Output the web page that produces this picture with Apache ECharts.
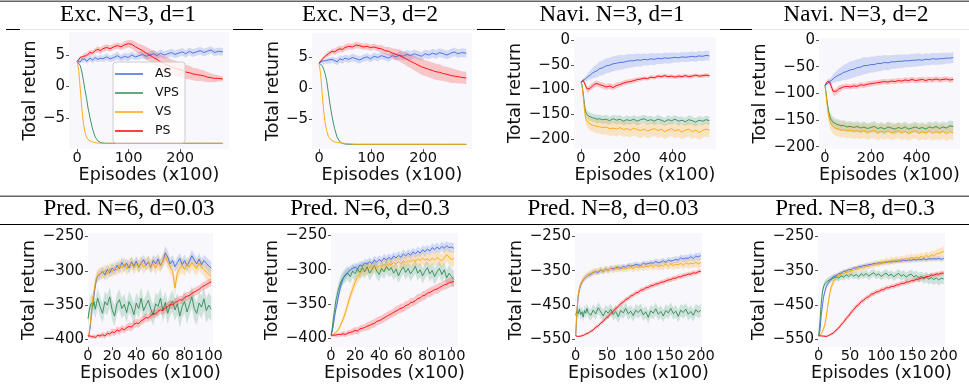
<!DOCTYPE html>
<html><head><meta charset="utf-8">
<script src="https://cdn.jsdelivr.net/npm/echarts@6/dist/echarts.min.js"></script>
<style>html,body{margin:0;padding:0;background:#fff}#c{width:969px;height:391px}</style>
</head><body><div id="c"></div>
<script>
// ---------------- DATA ----------------
const seriesNames = ['AS', 'VPS', 'VS', 'PS'];
const panelTitles = ['Exc. N=3, d=1', 'Exc. N=3, d=2', 'Navi. N=3, d=1', 'Navi. N=3, d=2',
  'Pred. N=6, d=0.03', 'Pred. N=6, d=0.3', 'Pred. N=8, d=0.03', 'Pred. N=8, d=0.3'];
const xAxisName = 'Episodes (x100)';
const yAxisName = 'Total return';

const excXTicks = [0, 100, 200];
const excYTicks = [-5, 0, 5];
const naviXTicks = [0, 200, 400];
const naviYTicks = [-200, -150, -100, -50, 0];
const pred6XTicks = [0, 20, 40, 60, 80, 100];
const pred6YTicks = [-400, -350, -300, -250];
const pred8XTicks = [0, 50, 100, 150, 200];
const pred8YTicks = [-550, -450, -350, -250];

const excX = [0,3,6,9,12,15,18,21,25,30,35,40,45,50,57,64,71,78,85,92,99,106,113,120,127,134,141,148,155,162,169,176,183,190,197,204,211,218,225,232,239,246,253,260,267,274,283];
const naviX = [0,5,10,15,20,25,30,35,40,50,60,70,80,95,110,125,140,155,170,185,200,215,230,245,260,275,290,305,320,335,350,365,380,395,410,425,440,455,470,485,500,515,530,545,560];
const pred6X = [0,1,2,3,4,5,6,7,8,10,12,14,16,18,20,22,24,26,28,30,32,34,36,38,40,42,44,46,48,50,52,54,56,58,60,62,64,66,68,70,72,74,76,78,80,82,84,86,88,90,92,94,96,98,100,102];
const pred8X = [0,2,4,6,8,10,12,14,16,18,20,24,28,32,36,40,44,48,52,56,60,64,68,72,76,80,84,88,92,96,100,104,108,112,116,120,124,128,132,136,140,144,148,152,156,160,164,168,172,176,180,184,188,192,196,200];

// Exc. N=3, d=1
const exc1_AS = [4.0,4.2,3.9,4.3,4.1,4.4,4.0,4.3,4.5,4.2,4.6,4.3,4.5,4.4,4.7,4.4,4.6,4.9,4.5,4.8,4.6,5.0,4.7,4.9,5.1,4.8,5.0,5.2,4.9,5.3,5.0,5.2,5.4,5.1,5.3,5.5,5.2,5.6,5.3,5.5,5.7,5.4,5.6,5.8,5.4,5.6,5.5];
const exc1_AS_sd = [0.1,0.2,0.3,0.3,0.4,0.4,0.4,0.5,0.5,0.5,0.5,0.5,0.5,0.5,0.6,0.5,0.6,0.6,0.5,0.6,0.6,0.6,0.5,0.6,0.6,0.6,0.6,0.6,0.6,0.6,0.6,0.6,0.6,0.6,0.6,0.6,0.6,0.6,0.6,0.6,0.6,0.6,0.6,0.6,0.6,0.6,0.6];
const exc1_VPS = [4.0,3.8,3.3,2.3,1.0,-0.5,-1.8,-3.4,-5.0,-6.8,-8.0,-8.6,-8.85,-8.95,-9,-9,-9,-9,-9,-9,-9,-9,-9,-9,-9,-9,-9,-9,-9,-9,-9,-9,-9,-9,-9,-9,-9,-9,-9,-9,-9,-9,-9,-9,-9,-9,-9];
const exc1_VS = [4.0,2.5,-0.5,-3.5,-5.8,-7.2,-8.0,-8.4,-8.65,-8.8,-8.9,-8.95,-9,-9,-9,-9,-9,-9,-9,-9,-9,-9,-9,-9,-9,-9,-9,-9,-9,-9,-9,-9,-9,-9,-9,-9,-9,-9,-9,-9,-9,-9,-9,-9,-9,-9,-9];
const exc1_PS = [4.0,4.3,4.6,4.5,4.8,5.0,4.9,5.2,5.4,5.3,5.7,5.9,5.7,6.0,6.2,6.0,6.3,6.5,6.3,6.6,6.8,6.7,6.3,6.0,5.7,5.3,5.0,4.6,4.3,3.9,3.6,3.4,3.1,2.9,2.7,2.6,2.3,2.2,2.0,1.9,1.8,1.7,1.5,1.4,1.3,1.3,1.2];
const exc1_PS_sd = [0.1,0.2,0.3,0.3,0.3,0.4,0.4,0.4,0.4,0.4,0.4,0.5,0.5,0.5,0.5,0.5,0.5,0.5,0.5,0.6,0.6,0.7,0.8,0.8,0.9,1.0,1.0,1.1,1.1,1.2,1.2,1.2,1.2,1.2,1.2,1.2,1.1,1.1,1.0,1.0,0.9,0.9,0.8,0.7,0.6,0.5,0.4];

// Exc. N=3, d=2
const exc2_AS = [4.0,4.1,4.3,4.0,4.4,4.2,4.5,4.3,4.6,4.4,4.2,4.7,4.5,4.8,4.6,4.9,4.7,4.5,4.8,5.0,4.7,5.1,4.9,5.2,5.0,4.8,5.2,5.0,5.3,5.1,5.4,5.2,5.5,5.3,5.1,5.5,5.3,5.6,5.4,5.7,5.5,5.3,5.6,5.8,5.5,5.7,5.6];
const exc2_AS_sd = [0.1,0.2,0.3,0.3,0.4,0.4,0.5,0.5,0.5,0.5,0.6,0.6,0.6,0.6,0.6,0.6,0.6,0.6,0.6,0.6,0.6,0.6,0.6,0.6,0.6,0.6,0.6,0.6,0.7,0.7,0.7,0.7,0.7,0.7,0.7,0.7,0.7,0.7,0.7,0.7,0.7,0.7,0.7,0.7,0.7,0.7,0.7];
const exc2_VPS = [4.0,3.9,3.6,3.0,2.2,1.0,-0.8,-2.6,-4.6,-6.6,-8.0,-8.7,-8.95,-9.05,-9.1,-9.1,-9.1,-9.1,-9.1,-9.1,-9.1,-9.1,-9.1,-9.1,-9.1,-9.1,-9.1,-9.1,-9.1,-9.1,-9.1,-9.1,-9.1,-9.1,-9.1,-9.1,-9.1,-9.1,-9.1,-9.1,-9.1,-9.1,-9.1,-9.1,-9.1,-9.1,-9.1];
const exc2_VS = [4.0,2.3,-0.8,-3.8,-5.8,-7.0,-7.8,-8.2,-8.5,-8.7,-8.8,-8.85,-8.9,-8.95,-9.0,-9.05,-9.1,-9.1,-9.1,-9.1,-9.1,-9.1,-9.1,-9.1,-9.1,-9.1,-9.1,-9.1,-9.1,-9.1,-9.1,-9.1,-9.1,-9.1,-9.1,-9.1,-9.1,-9.1,-9.1,-9.1,-9.1,-9.1,-9.1,-9.1,-9.1,-9.1,-9.1];
const exc2_PS = [4.0,4.3,4.6,4.9,5.1,5.3,5.5,5.6,5.9,5.8,6.1,6.3,6.2,6.5,6.7,6.6,6.9,6.8,6.6,6.7,6.5,6.6,6.4,6.3,6.0,5.9,5.6,5.4,5.2,4.9,4.6,4.3,4.0,3.7,3.4,3.2,3.0,2.8,2.6,2.5,2.3,2.2,2.0,1.9,1.8,1.7,1.6];
const exc2_PS_sd = [0.1,0.2,0.3,0.3,0.3,0.4,0.4,0.4,0.4,0.5,0.5,0.5,0.5,0.5,0.5,0.5,0.5,0.5,0.5,0.5,0.5,0.5,0.5,0.6,0.6,0.7,0.8,0.9,1.0,1.0,1.1,1.1,1.2,1.2,1.3,1.3,1.3,1.3,1.3,1.3,1.2,1.2,1.2,1.1,1.1,1.0,1.0];

// Navi. N=3, d=1
const navi1_AS = [-85,-84,-81,-80,-78,-77,-74,-72,-71,-67,-64,-62,-58,-56,-52,-51,-48,-47,-45,-45,-43,-42,-42,-40,-41,-39,-40,-38,-39,-37,-38,-36,-37,-36,-35,-36,-34,-35,-34,-33,-34,-32,-33,-31,-32];
const navi1_AS_sd = [1,2,3,4,5,6,7,8,9,11,12,13,14,15,15,15,15,15,15,14,14,14,13,13,13,12,12,12,12,11,11,11,11,11,10,10,10,10,10,10,10,10,10,10,10];
const navi1_VPS = [-85,-92,-108,-130,-145,-150,-152,-154,-155,-157,-158,-160,-159,-161,-160,-163,-159,-162,-160,-164,-161,-163,-160,-164,-161,-159,-163,-161,-164,-160,-162,-165,-161,-163,-160,-164,-162,-165,-161,-163,-166,-162,-164,-161,-163];
const navi1_VPS_sd = [1,3,5,7,8,8,8,9,8,8,8,9,8,8,9,8,8,9,8,8,9,8,8,9,8,8,9,8,8,9,8,8,9,8,8,9,8,8,9,8,8,9,8,8,9];
const navi1_VS = [-85,-95,-115,-140,-158,-163,-166,-168,-170,-172,-173,-175,-175,-177,-176,-179,-178,-180,-177,-181,-179,-182,-178,-181,-183,-180,-184,-181,-179,-183,-180,-185,-182,-179,-184,-181,-186,-182,-180,-185,-182,-187,-183,-180,-182];
const navi1_VS_sd = [1,3,6,9,11,12,12,13,13,13,14,14,14,14,15,15,15,15,15,15,15,15,15,15,15,15,15,15,15,15,15,15,15,15,15,15,15,15,15,15,15,15,15,15,15];
const navi1_PS = [-85,-83,-82,-86,-92,-98,-101,-99,-96,-93,-89,-88,-90,-92,-95,-93,-96,-92,-90,-87,-85,-84,-82,-80,-79,-77,-78,-75,-76,-73,-74,-72,-74,-73,-75,-73,-74,-72,-74,-73,-71,-73,-72,-71,-72];
const navi1_PS_sd = [1,2,3,4,5,6,6,6,6,6,6,6,6,6,6,6,6,6,5,5,5,5,5,5,4,4,4,4,4,4,4,4,4,4,4,4,4,4,4,4,4,4,4,4,4];

// Navi. N=3, d=2
const navi2_AS = [-85,-83,-82,-80,-78,-77,-75,-72,-71,-68,-66,-64,-61,-59,-56,-55,-52,-51,-48,-48,-46,-46,-44,-44,-42,-43,-41,-41,-40,-40,-39,-39,-38,-38,-37,-38,-36,-37,-35,-36,-35,-35,-34,-34,-33];
const navi2_AS_sd = [1,2,3,4,5,6,7,8,9,10,12,13,14,15,16,16,16,16,16,15,15,15,15,14,14,14,13,13,13,13,12,12,12,12,12,11,11,11,11,11,11,11,10,10,10];
const navi2_VPS = [-85,-100,-118,-132,-142,-148,-151,-154,-156,-158,-159,-161,-160,-163,-162,-164,-162,-165,-163,-166,-164,-162,-166,-164,-167,-163,-165,-167,-164,-166,-163,-167,-165,-163,-166,-164,-167,-163,-165,-162,-166,-163,-165,-161,-162];
const navi2_VPS_sd = [1,3,6,8,9,10,10,10,10,10,10,10,10,10,10,10,10,10,10,10,10,10,10,10,10,10,10,10,10,10,10,10,10,10,10,10,10,10,10,10,10,10,10,10,10];
const navi2_VS = [-85,-105,-125,-140,-150,-156,-160,-162,-164,-166,-167,-169,-168,-170,-169,-171,-170,-172,-169,-173,-171,-170,-174,-171,-173,-170,-174,-172,-170,-174,-171,-175,-172,-170,-175,-172,-174,-170,-175,-172,-174,-171,-176,-172,-174];
const navi2_VS_sd = [1,4,7,10,12,13,13,13,14,14,14,14,14,14,14,14,14,14,14,14,14,14,14,14,14,14,14,14,14,14,14,14,14,14,14,14,14,14,14,14,14,14,14,14,14];
const navi2_PS = [-85,-82,-78,-76,-79,-84,-90,-96,-99,-96,-92,-90,-88,-87,-88,-86,-87,-84,-85,-83,-82,-81,-80,-79,-78,-79,-77,-78,-76,-77,-75,-76,-74,-76,-75,-74,-76,-74,-75,-73,-75,-74,-73,-75,-74];
const navi2_PS_sd = [1,2,3,4,5,6,6,6,6,6,6,6,5,5,5,5,5,5,5,5,5,5,5,5,5,5,5,5,5,5,5,5,5,5,5,5,5,5,5,5,5,5,5,5,5];

// Pred. N=6, d=0.03
const pred1_AS = [-395,-392,-380,-360,-345,-335,-322,-312,-308,-305,-301,-306,-298,-303,-296,-300,-292,-297,-288,-294,-289,-296,-287,-293,-286,-295,-289,-284,-292,-287,-295,-285,-290,-283,-292,-286,-274,-280,-290,-285,-294,-288,-282,-291,-285,-293,-286,-278,-284,-290,-283,-291,-285,-289,-293,-296];
const pred1_AS_sd = [1,2,4,6,7,7,7,7,7,7,7,8,7,7,8,7,7,8,8,8,7,8,8,7,8,8,8,7,8,8,8,8,9,8,8,9,10,9,8,8,8,9,8,8,9,8,8,9,8,8,9,8,8,9,9,9];
const pred1_VPS = [-370,-358,-350,-347,-352,-345,-356,-348,-340,-352,-362,-345,-350,-338,-357,-366,-348,-342,-355,-349,-361,-345,-352,-364,-347,-355,-340,-358,-350,-343,-356,-365,-348,-352,-340,-358,-346,-362,-350,-344,-357,-348,-366,-352,-345,-360,-349,-338,-355,-362,-347,-353,-341,-358,-350,-356];
const pred1_VPS_sd = [8,10,12,13,14,14,14,14,14,14,14,15,15,14,15,15,14,15,15,15,15,15,15,16,15,15,16,15,15,16,16,15,16,16,15,16,16,16,15,16,16,16,17,16,16,17,16,16,17,17,16,17,17,18,18,18];
const pred1_VS = [-395,-390,-375,-356,-340,-330,-318,-310,-307,-304,-303,-300,-305,-297,-301,-295,-299,-291,-296,-290,-297,-292,-289,-296,-290,-294,-288,-295,-290,-287,-294,-289,-296,-288,-293,-285,-279,-287,-294,-300,-325,-303,-296,-292,-298,-290,-295,-288,-293,-297,-289,-294,-298,-302,-305,-308];
const pred1_VS_sd = [1,2,4,6,8,9,9,9,9,9,9,9,9,9,9,9,9,9,9,10,9,10,9,10,9,10,9,10,9,10,10,10,10,10,10,10,10,10,10,10,14,10,10,10,10,10,10,10,10,10,10,10,10,11,11,11];
const pred1_PS = [-395,-396,-395,-397,-396,-395,-397,-396,-394,-395,-393,-395,-391,-392,-389,-390,-386,-388,-384,-386,-383,-381,-382,-378,-376,-377,-373,-371,-368,-369,-365,-362,-363,-359,-357,-358,-354,-352,-349,-350,-346,-345,-342,-343,-339,-337,-336,-333,-331,-329,-327,-324,-322,-320,-318,-316];
const pred1_PS_sd = [2,2,2,2,3,3,3,3,3,3,4,4,4,4,5,5,5,5,5,5,5,6,6,6,6,6,6,6,6,6,6,6,6,6,6,6,6,6,6,6,6,6,6,6,6,6,6,6,6,6,6,6,6,6,6,6];

// Pred. N=6, d=0.3
const pred2_AS = [-395,-390,-380,-368,-357,-350,-340,-332,-324,-313,-307,-304,-300,-298,-296,-299,-293,-295,-290,-292,-288,-291,-286,-289,-285,-288,-283,-286,-282,-285,-280,-283,-279,-282,-277,-280,-276,-279,-274,-277,-273,-276,-271,-274,-270,-273,-268,-271,-267,-270,-266,-269,-265,-268,-267,-269];
const pred2_AS_sd = [1,2,3,5,6,6,6,6,6,6,6,6,6,6,6,6,6,6,6,6,6,6,6,6,6,6,6,6,6,6,6,6,6,6,7,6,6,7,6,6,7,6,6,7,6,6,7,6,7,6,7,7,6,7,7,7];
const pred2_VPS = [-395,-385,-370,-358,-345,-338,-330,-324,-318,-312,-308,-305,-310,-302,-306,-299,-304,-297,-303,-296,-305,-300,-294,-302,-307,-298,-303,-295,-301,-297,-305,-299,-309,-301,-296,-304,-298,-306,-301,-295,-305,-300,-309,-302,-297,-306,-301,-310,-303,-298,-307,-300,-312,-305,-310,-314];
const pred2_VPS_sd = [1,3,5,7,9,10,10,10,10,10,10,10,10,10,10,10,10,10,10,10,11,10,10,11,10,10,11,10,10,11,10,11,10,11,10,11,10,11,10,11,11,10,11,11,10,11,11,12,11,11,12,11,12,12,12,12];
const pred2_VS = [-395,-395,-394,-393,-391,-390,-387,-384,-380,-372,-362,-350,-338,-328,-318,-311,-306,-302,-299,-300,-296,-298,-295,-297,-294,-296,-292,-295,-291,-293,-289,-292,-288,-291,-287,-290,-286,-289,-285,-288,-284,-287,-283,-286,-284,-287,-283,-286,-282,-285,-287,-283,-278,-282,-285,-284];
const pred2_VS_sd = [1,1,1,2,2,2,3,3,4,5,6,7,8,8,8,8,8,8,8,8,8,8,8,8,8,8,8,8,8,8,8,8,8,8,8,9,8,8,9,8,9,8,9,9,8,9,9,9,10,9,10,10,10,11,11,11];
const pred2_PS = [-395,-396,-395,-396,-395,-396,-394,-395,-394,-393,-394,-392,-391,-390,-388,-389,-386,-385,-384,-382,-381,-379,-378,-375,-374,-372,-370,-368,-366,-364,-362,-360,-358,-356,-355,-352,-351,-348,-347,-345,-342,-341,-338,-337,-334,-333,-331,-329,-328,-326,-324,-322,-321,-319,-318,-317];
const pred2_PS_sd = [2,2,2,2,3,3,3,3,3,4,4,4,4,5,5,5,5,5,5,6,6,6,6,6,6,6,6,6,6,6,6,7,6,7,6,7,6,7,6,7,7,6,7,7,6,7,7,6,7,7,6,7,7,7,7,7];

// Pred. N=8, d=0.03
const pred3_AS = [-540,-470,-425,-405,-392,-383,-377,-373,-369,-367,-363,-361,-355,-353,-355,-348,-352,-345,-349,-343,-344,-342,-339,-344,-337,-341,-334,-337,-335,-332,-333,-335,-328,-331,-329,-327,-328,-323,-327,-325,-321,-326,-319,-322,-320,-317,-319,-312,-316,-313,-314,-309,-314,-307,-310,-306];
const pred3_AS_sd = [2,6,8,8,8,8,8,8,8,8,8,8,8,8,8,8,8,8,8,8,8,8,8,8,8,8,8,8,8,9,8,9,8,9,8,9,8,9,9,9,9,9,9,9,10,9,10,9,10,10,10,10,10,10,11,11];
const pred3_VPS = [-480,-468,-475,-462,-478,-470,-485,-466,-474,-460,-472,-480,-465,-476,-458,-470,-482,-467,-474,-462,-478,-469,-484,-466,-473,-460,-476,-468,-481,-465,-472,-463,-479,-470,-486,-467,-474,-461,-477,-469,-482,-466,-473,-460,-475,-468,-483,-465,-472,-462,-477,-469,-480,-464,-471,-466];
const pred3_VPS_sd = [10,14,15,15,16,16,16,16,16,16,16,17,17,17,17,17,17,17,17,17,17,18,18,18,18,18,18,18,18,18,18,18,18,18,18,18,18,18,18,18,18,18,18,18,18,18,18,18,18,18,18,18,18,18,18,18];
const pred3_VS = [-540,-465,-420,-400,-390,-382,-376,-371,-368,-364,-362,-358,-354,-352,-352,-347,-351,-345,-350,-343,-348,-342,-347,-340,-345,-341,-343,-338,-345,-337,-342,-336,-341,-337,-339,-334,-340,-333,-338,-335,-336,-331,-337,-330,-335,-331,-333,-328,-334,-327,-331,-328,-330,-325,-330,-327];
const pred3_VS_sd = [2,8,10,10,10,10,10,10,10,10,10,10,10,10,10,10,10,10,10,10,10,10,10,10,10,10,10,11,10,11,10,11,10,11,11,11,11,11,11,12,11,12,11,12,12,12,12,13,12,13,13,13,13,14,14,14];
const pred3_PS = [-540,-541,-542,-539,-541,-538,-539,-536,-535,-533,-532,-527,-523,-515,-511,-503,-498,-489,-484,-475,-469,-460,-455,-446,-442,-434,-431,-424,-421,-415,-413,-407,-405,-400,-399,-394,-393,-389,-388,-384,-383,-380,-377,-376,-372,-372,-368,-368,-364,-363,-360,-360,-356,-357,-353,-352];
const pred3_PS_sd = [2,2,2,2,3,3,3,3,4,4,4,5,5,5,6,6,6,6,7,7,7,7,7,7,7,7,7,7,7,7,7,7,7,7,7,7,7,7,7,7,7,7,7,7,7,7,7,7,7,7,7,7,7,7,7,7];

// Pred. N=8, d=0.3
const pred4_AS = [-540,-525,-480,-450,-425,-410,-398,-390,-384,-379,-374,-367,-365,-359,-357,-352,-351,-347,-347,-342,-342,-338,-338,-335,-335,-332,-332,-329,-330,-327,-328,-325,-326,-323,-325,-322,-323,-321,-322,-319,-321,-318,-320,-317,-319,-316,-318,-315,-318,-315,-316,-315,-316,-314,-317,-314];
const pred4_AS_sd = [2,5,7,7,7,7,7,6,6,6,6,6,6,6,6,6,6,6,6,6,6,6,6,6,6,6,6,6,6,6,6,6,6,6,6,6,6,6,6,6,6,7,7,7,7,7,7,7,7,7,7,7,7,7,7,7];
const pred4_VPS = [-540,-500,-445,-412,-395,-388,-384,-380,-378,-376,-374,-371,-368,-372,-365,-369,-362,-367,-360,-366,-361,-368,-359,-364,-358,-366,-360,-356,-364,-359,-367,-361,-357,-365,-360,-368,-362,-358,-366,-361,-369,-363,-360,-368,-364,-371,-366,-373,-368,-375,-370,-376,-371,-377,-372,-374];
const pred4_VPS_sd = [2,8,10,10,10,10,10,10,10,10,10,10,10,10,10,10,10,10,10,10,10,10,10,10,11,11,11,11,11,11,11,12,12,12,12,12,12,13,13,13,13,13,13,14,14,14,14,15,15,15,15,16,16,16,16,16];
const pred4_VS = [-540,-538,-534,-528,-518,-505,-485,-460,-435,-415,-398,-380,-370,-366,-359,-359,-354,-354,-349,-350,-345,-346,-340,-343,-336,-339,-333,-335,-328,-332,-325,-328,-322,-326,-319,-323,-317,-321,-315,-319,-313,-317,-311,-315,-310,-313,-308,-312,-305,-310,-304,-306,-301,-300,-296,-294];
const pred4_VS_sd = [2,3,4,6,8,10,12,12,12,12,11,10,9,9,9,9,9,9,9,9,9,9,9,9,9,9,9,9,9,9,9,10,10,10,10,10,10,10,10,10,10,11,11,11,11,11,11,12,12,12,12,13,13,14,14,15];
const pred4_PS = [-540,-541,-540,-542,-541,-540,-542,-540,-539,-537,-535,-531,-523,-517,-507,-500,-489,-482,-471,-464,-454,-449,-440,-436,-429,-426,-419,-417,-412,-411,-406,-405,-400,-400,-396,-396,-392,-391,-387,-387,-383,-383,-379,-379,-375,-375,-371,-371,-367,-367,-363,-363,-360,-360,-357,-357];
const pred4_PS_sd = [2,2,2,2,2,3,3,3,3,3,4,4,5,5,6,6,7,7,7,7,7,7,7,7,7,7,7,7,7,7,7,7,7,7,7,7,7,7,7,7,7,7,7,7,7,7,7,7,7,7,7,7,7,7,7,7];

// ---------------- ASSEMBLY ----------------
const panelData = [
  {x: excX, xt: excXTicks, yt: excYTicks, s: {AS:[exc1_AS,exc1_AS_sd], VPS:[exc1_VPS,null], VS:[exc1_VS,null], PS:[exc1_PS,exc1_PS_sd]}},
  {x: excX, xt: excXTicks, yt: excYTicks, s: {AS:[exc2_AS,exc2_AS_sd], VPS:[exc2_VPS,null], VS:[exc2_VS,null], PS:[exc2_PS,exc2_PS_sd]}},
  {x: naviX, xt: naviXTicks, yt: naviYTicks, s: {AS:[navi1_AS,navi1_AS_sd], VPS:[navi1_VPS,navi1_VPS_sd], VS:[navi1_VS,navi1_VS_sd], PS:[navi1_PS,navi1_PS_sd]}},
  {x: naviX, xt: naviXTicks, yt: naviYTicks, s: {AS:[navi2_AS,navi2_AS_sd], VPS:[navi2_VPS,navi2_VPS_sd], VS:[navi2_VS,navi2_VS_sd], PS:[navi2_PS,navi2_PS_sd]}},
  {x: pred6X, xt: pred6XTicks, yt: pred6YTicks, s: {AS:[pred1_AS,pred1_AS_sd], VPS:[pred1_VPS,pred1_VPS_sd], VS:[pred1_VS,pred1_VS_sd], PS:[pred1_PS,pred1_PS_sd]}},
  {x: pred6X, xt: pred6XTicks, yt: pred6YTicks, s: {AS:[pred2_AS,pred2_AS_sd], VPS:[pred2_VPS,pred2_VPS_sd], VS:[pred2_VS,pred2_VS_sd], PS:[pred2_PS,pred2_PS_sd]}},
  {x: pred8X, xt: pred8XTicks, yt: pred8YTicks, s: {AS:[pred3_AS,pred3_AS_sd], VPS:[pred3_VPS,pred3_VPS_sd], VS:[pred3_VS,pred3_VS_sd], PS:[pred3_PS,pred3_PS_sd]}},
  {x: pred8X, xt: pred8XTicks, yt: pred8YTicks, s: {AS:[pred4_AS,pred4_AS_sd], VPS:[pred4_VPS,pred4_VPS_sd], VS:[pred4_VS,pred4_VS_sd], PS:[pred4_PS,pred4_PS_sd]}}
];

// layout (pixels) and axis ranges
const layout = [
  {l:69,  t:32,  w:160, h:117, xr:[-16,295],   yr:[-9.9,8.65],   yg:28, xg:16, tx:128, ty:15},
  {l:312, t:33,  w:160, h:116, xr:[-13.5,294], yr:[-9.85,8.85],  yg:29, xg:16, tx:370, ty:15},
  {l:574, t:37,  w:142, h:112, xr:[-30.5,588.7], yr:[-220.2,6.1], yg:47, xg:16, tx:612, ty:15},
  {l:819, t:38,  w:141, h:111, xr:[-26.2,589.5], yr:[-204.3,3.7], yg:48, xg:16, tx:856, ty:15},
  {l:88,  t:233, w:125, h:114, xr:[0,103.5],   yr:[-411,-245],   yg:46, xg:15, tx:129, ty:209},
  {l:331, t:233, w:127, h:114, xr:[0,105.4],   yr:[-412.2,-246.7], yg:46, xg:15, tx:370, ty:209},
  {l:575, t:233, w:127, h:114, xr:[-1.1,201.9], yr:[-572.6,-240], yg:48, xg:15, tx:613, ty:209},
  {l:818, t:233, w:127, h:114, xr:[-1.1,202],  yr:[-572.6,-240], yg:46, xg:15, tx:855, ty:209}
];

const lineColors = {AS:'#4169e1', VPS:'#2e8b57', VS:'#ffa500', PS:'#ff0000'};
const bandColors = {AS:'rgba(65,105,225,0.2)', VPS:'rgba(46,139,87,0.2)', VS:'rgba(255,165,0,0.22)', PS:'rgba(255,0,0,0.2)'};
const FONT = 'DejaVu Sans';
const fmt = v => (v < 0 ? '\u2212' + Math.abs(v) : String(v));

const grids = [], xAxes = [], yAxes = [], series = [];
panelData.forEach((p, i) => {
  const L = layout[i];
  grids.push({left:L.l, top:L.t, width:L.w, height:L.h, show:true, backgroundColor:'#f7f7fc', borderWidth:0, containLabel:false, outerBoundsMode:'none'});
  xAxes.push({type:'value', gridIndex:i, min:L.xr[0], max:L.xr[1], position:'bottom',
    axisLine:{show:false, onZero:false}, splitLine:{show:false},
    axisTick:{show:true, length:3, customValues:p.xt, lineStyle:{color:'#555'}},
    axisLabel:{customValues:p.xt, formatter:fmt, fontFamily:FONT, fontSize:14.6, color:'#111', margin:2,
      hideOverlap:false, showMinLabel:true, showMaxLabel:true},
    name:xAxisName, nameLocation:'middle', nameGap:L.xg,
    nameTextStyle:{fontFamily:FONT, fontSize:17.5, color:'#111'}});
  yAxes.push({type:'value', gridIndex:i, min:L.yr[0], max:L.yr[1], position:'left',
    axisLine:{show:false, onZero:false}, splitLine:{show:false},
    axisTick:{show:true, length:3, customValues:p.yt, lineStyle:{color:'#555'}},
    axisLabel:{customValues:p.yt, formatter:fmt, fontFamily:FONT, fontSize:15, color:'#111', margin:4,
      hideOverlap:false, showMinLabel:true, showMaxLabel:true},
    name:yAxisName, nameLocation:'middle', nameGap:L.yg,
    nameTextStyle:{fontFamily:FONT, fontSize:17.5, color:'#111'}});
  // shaded bands: polygon through the library's coordinate mapping
  seriesNames.forEach(n => {
    const mean = p.s[n][0], sd = p.s[n][1];
    if (!sd) return;
    series.push({type:'custom', name:n + ' band', coordinateSystem:'cartesian2d', xAxisIndex:i, yAxisIndex:i,
      clip:true, silent:true, z:1, animation:false,
      data:[[p.x[0], mean[0]]],
      renderItem:(params, api) => {
        const up = p.x.map((xv, k) => api.coord([xv, mean[k] + sd[k]]));
        const lo = p.x.map((xv, k) => api.coord([xv, mean[k] - sd[k]])).reverse();
        return {type:'polygon', shape:{points: up.concat(lo)}, style:{fill:bandColors[n]}};
      }});
  });
  // mean lines
  seriesNames.forEach(n => {
    const mean = p.s[n][0];
    series.push({type:'line', name:n, xAxisIndex:i, yAxisIndex:i,
      data:p.x.map((xv, k) => [xv, mean[k]]), symbol:'none', color:lineColors[n],
      lineStyle:{width:1, color:lineColors[n], opacity:0.9}, z:3, animation:false});
  });
});

const graphics = [
  {type:'rect', shape:{x:0, y:0.5, width:969, height:1.5}, style:{fill:'#666'}},
  {type:'rect', shape:{x:20, y:29, width:949, height:1}, style:{fill:'#e8e8e8'}},
  {type:'rect', shape:{x:6, y:29, width:14, height:1}, style:{fill:'#000'}},
  {type:'rect', shape:{x:233, y:29, width:30, height:1}, style:{fill:'#000'}},
  {type:'rect', shape:{x:477, y:29, width:28, height:1}, style:{fill:'#000'}},
  {type:'rect', shape:{x:720, y:29, width:32, height:1}, style:{fill:'#000'}},
  {type:'rect', shape:{x:0, y:195.5, width:969, height:1.5}, style:{fill:'#666'}},
  {type:'rect', shape:{x:0, y:224, width:969, height:1}, style:{fill:'#000'}}
];
panelTitles.forEach((t, i) => {
  const L = layout[i];
  graphics.push({type:'text', x:L.tx, y:L.ty, style:{text:t, fill:'#000', font:'23px "Liberation Serif"', textAlign:'center', textVerticalAlign:'middle'}});
});

const chart = echarts.init(document.getElementById('c'), null, {renderer:'canvas'});
chart.setOption({
  animation:false,
  backgroundColor:'#ffffff',
  grid:grids, xAxis:xAxes, yAxis:yAxes, series:series,
  legend:{data:seriesNames, orient:'vertical', left:113, top:62, icon:'rect', itemWidth:28, itemHeight:1.5,
    itemGap:5, padding:[5,6,5,2], backgroundColor:'rgba(255,255,255,0.8)', borderColor:'#cccccc', borderWidth:1,
    borderRadius:3, selectedMode:false, z:10,
    textStyle:{fontFamily:FONT, fontSize:12.5, color:'#111', padding:[0,0,0,7], lineHeight:14}},
  graphic:graphics
});
</script>
</body></html>
